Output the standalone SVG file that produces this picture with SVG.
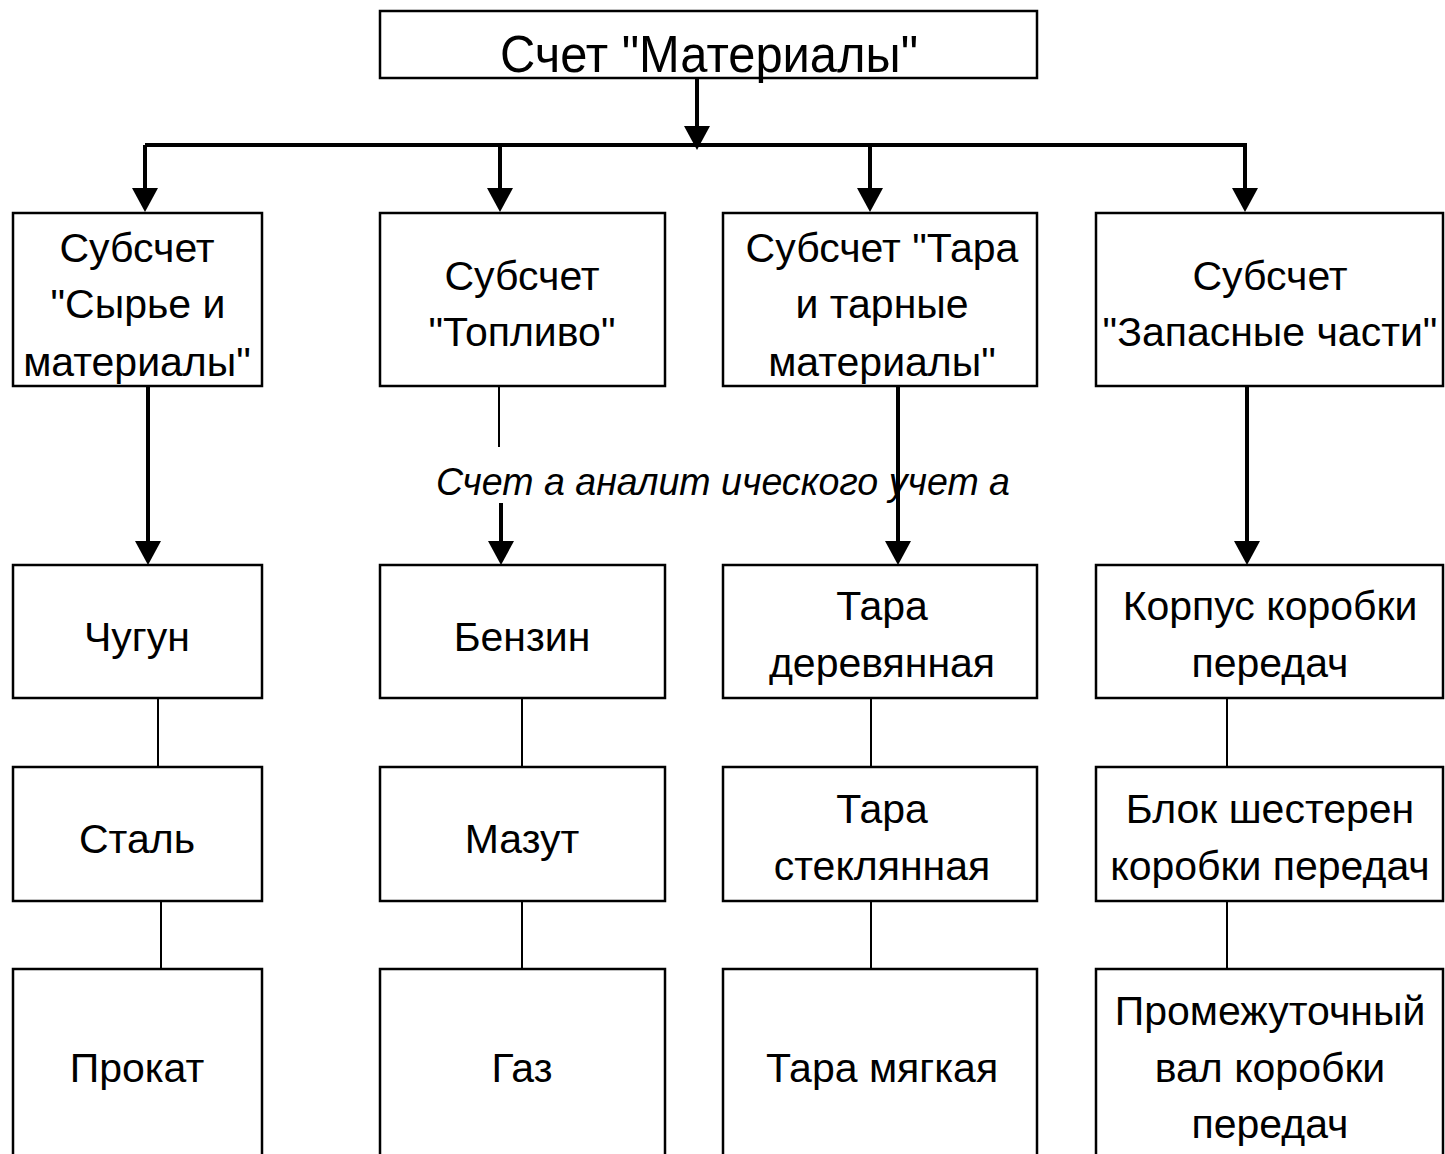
<svg xmlns="http://www.w3.org/2000/svg" width="1445" height="1154" viewBox="0 0 1445 1154">
<defs>
<marker id="ah" viewBox="0 0 26 24" refX="13" refY="24" markerWidth="26" markerHeight="24" markerUnits="userSpaceOnUse" orient="auto-start-reverse">
<path d="M0,0 L26,0 L13,24 Z" fill="#000"/>
</marker>
<style>
.box{fill:#fff;stroke:#000;stroke-width:2.5}
.t{font-family:"Liberation Sans",Arial,sans-serif;font-size:41px;fill:#000;text-anchor:middle}
.thick{stroke:#000;stroke-width:4;fill:none}
.thin{stroke:#000;stroke-width:2;fill:none}
.arr{stroke:#000;stroke-width:4;fill:none}
</style>
</defs>
<rect width="1445" height="1154" fill="#fff"/>
<g id="connectors">
<line class="arr" x1="697" y1="78" x2="697" y2="128"/>
<path d="M684,126 L710,126 L697,150 Z"/>
<line class="thick" x1="145" y1="145" x2="1247" y2="145"/>
<line class="thick" x1="145" y1="145" x2="145" y2="190"/>
<path d="M132,188 L158,188 L145,212 Z"/>
<line class="thick" x1="500" y1="145" x2="500" y2="190"/>
<path d="M487,188 L513,188 L500,212 Z"/>
<line class="thick" x1="870" y1="145" x2="870" y2="190"/>
<path d="M857,188 L883,188 L870,212 Z"/>
<line class="thick" x1="1245" y1="145" x2="1245" y2="190"/>
<path d="M1232,188 L1258,188 L1245,212 Z"/>
<line class="thick" x1="148" y1="386" x2="148" y2="543"/>
<path d="M135,541 L161,541 L148,565 Z"/>
<line class="thin" x1="499" y1="386" x2="499" y2="447"/>
<line class="thick" x1="501" y1="503" x2="501" y2="543"/>
<path d="M488,541 L514,541 L501,565 Z"/>
<line class="thick" x1="898" y1="382" x2="898" y2="543"/>
<path d="M885,541 L911,541 L898,565 Z"/>
<line class="thick" x1="1247" y1="386" x2="1247" y2="543"/>
<path d="M1234,541 L1260,541 L1247,565 Z"/>
<line class="thin" x1="158" y1="698" x2="158" y2="767"/>
<line class="thin" x1="522" y1="698" x2="522" y2="767"/>
<line class="thin" x1="871" y1="698" x2="871" y2="767"/>
<line class="thin" x1="1227" y1="698" x2="1227" y2="767"/>
<line class="thin" x1="161" y1="901" x2="161" y2="969"/>
<line class="thin" x1="522" y1="901" x2="522" y2="969"/>
<line class="thin" x1="871" y1="901" x2="871" y2="969"/>
<line class="thin" x1="1227" y1="901" x2="1227" y2="969"/>
</g>
<g id="n_root">
<rect class="box" x="380" y="11" width="657" height="67"/>
<text class="t" x="709" y="72" font-size="52" textLength="418" lengthAdjust="spacingAndGlyphs" style="font-size:52px">Счет "Материалы"</text>
</g>
<g id="n_sub1">
<rect class="box" x="13" y="213" width="249" height="173"/>
<text class="t" x="137" y="262">Субсчет</text>
<text class="t" x="138" y="318">"Сырье и</text>
<text class="t" x="137" y="376">материалы"</text>
</g>
<g id="n_sub2">
<rect class="box" x="380" y="213" width="285" height="173"/>
<text class="t" x="522" y="290">Субсчет</text>
<text class="t" x="522" y="346">"Топливо"</text>
</g>
<g id="n_sub3">
<rect class="box" x="723" y="213" width="314" height="173"/>
<text class="t" x="882" y="262">Субсчет "Тара</text>
<text class="t" x="882" y="318">и тарные</text>
<text class="t" x="882" y="376">материалы"</text>
</g>
<g id="n_sub4">
<rect class="box" x="1096" y="213" width="347" height="173"/>
<text class="t" x="1270" y="290">Субсчет</text>
<text class="t" x="1270" y="346">"Запасные части"</text>
</g>
<g id="label_analytic">
<text x="723" y="495" font-family="Liberation Sans, Arial, sans-serif" font-style="italic" font-size="39" text-anchor="middle" textLength="574" lengthAdjust="spacingAndGlyphs">Счет а аналит ического учет а</text>
</g>
<g id="n_chugun">
<rect class="box" x="13" y="565" width="249" height="133"/>
<text class="t" x="137" y="651">Чугун</text>
</g>
<g id="n_benzin">
<rect class="box" x="380" y="565" width="285" height="133"/>
<text class="t" x="522" y="651">Бензин</text>
</g>
<g id="n_tara_der">
<rect class="box" x="723" y="565" width="314" height="133"/>
<text class="t" x="882" y="620">Тара</text>
<text class="t" x="882" y="677">деревянная</text>
</g>
<g id="n_korpus">
<rect class="box" x="1096" y="565" width="347" height="133"/>
<text class="t" x="1270" y="620">Корпус коробки</text>
<text class="t" x="1270" y="677">передач</text>
</g>
<g id="n_stal">
<rect class="box" x="13" y="767" width="249" height="134"/>
<text class="t" x="137" y="853">Сталь</text>
</g>
<g id="n_mazut">
<rect class="box" x="380" y="767" width="285" height="134"/>
<text class="t" x="522" y="853">Мазут</text>
</g>
<g id="n_tara_stekl">
<rect class="box" x="723" y="767" width="314" height="134"/>
<text class="t" x="882" y="823">Тара</text>
<text class="t" x="882" y="880">стеклянная</text>
</g>
<g id="n_blok">
<rect class="box" x="1096" y="767" width="347" height="134"/>
<text class="t" x="1270" y="823">Блок шестерен</text>
<text class="t" x="1270" y="880">коробки передач</text>
</g>
<g id="n_prokat">
<rect class="box" x="13" y="969" width="249" height="200"/>
<text class="t" x="137" y="1082">Прокат</text>
</g>
<g id="n_gaz">
<rect class="box" x="380" y="969" width="285" height="200"/>
<text class="t" x="522" y="1082">Газ</text>
</g>
<g id="n_tara_myag">
<rect class="box" x="723" y="969" width="314" height="200"/>
<text class="t" x="882" y="1082">Тара мягкая</text>
</g>
<g id="n_val">
<rect class="box" x="1096" y="969" width="347" height="200"/>
<text class="t" x="1270" y="1025">Промежуточный</text>
<text class="t" x="1270" y="1082">вал коробки</text>
<text class="t" x="1270" y="1138">передач</text>
</g>
</svg>
